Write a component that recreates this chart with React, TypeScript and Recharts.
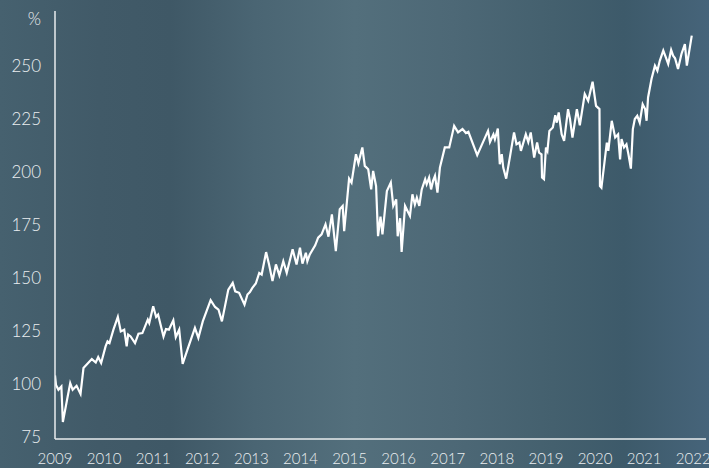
import { LineChart, Line, XAxis, YAxis } from "recharts";

// time in fractional years
const dates = [
  2009.0, 2009.02, 2009.07, 2009.13, 2009.16, 2009.31, 2009.36, 2009.44, 2009.52, 2009.58,
  2009.75, 2009.83, 2009.88, 2009.94, 2010.03, 2010.07, 2010.11, 2010.19, 2010.28, 2010.34,
  2010.41, 2010.46, 2010.49, 2010.54, 2010.63, 2010.7, 2010.78, 2010.89, 2010.92, 2011.0,
  2011.06, 2011.1, 2011.21, 2011.26, 2011.32, 2011.41, 2011.46, 2011.53, 2011.6, 2011.71,
  2011.85, 2011.92, 2012.01, 2012.17, 2012.26, 2012.33, 2012.4, 2012.53, 2012.62, 2012.67,
  2012.75, 2012.86, 2012.92, 2012.97, 2013.02, 2013.09, 2013.16, 2013.21, 2013.3, 2013.36,
  2013.43, 2013.5, 2013.57, 2013.65, 2013.72, 2013.84, 2013.92, 2013.99, 2014.04, 2014.11,
  2014.14, 2014.19, 2014.3, 2014.36, 2014.43, 2014.51, 2014.57, 2014.64, 2014.72, 2014.8,
  2014.86, 2014.89, 2014.99, 2015.04, 2015.13, 2015.18, 2015.26, 2015.31, 2015.38, 2015.44,
  2015.48, 2015.54, 2015.58, 2015.63, 2015.67, 2015.76, 2015.84, 2015.89, 2015.95, 2015.98,
  2016.03, 2016.06, 2016.13, 2016.23, 2016.28, 2016.33, 2016.37, 2016.42, 2016.47, 2016.54,
  2016.57, 2016.62, 2016.66, 2016.7, 2016.74, 2016.79, 2016.84, 2016.94, 2017.03, 2017.13,
  2017.21, 2017.3, 2017.37, 2017.42, 2017.6, 2017.82, 2017.86, 2017.93, 2017.96, 2018.02,
  2018.06, 2018.1, 2018.13, 2018.19, 2018.27, 2018.35, 2018.4, 2018.46, 2018.49, 2018.59,
  2018.64, 2018.69, 2018.76, 2018.82, 2018.86, 2018.91, 2018.92, 2018.96, 2019.0, 2019.03,
  2019.07, 2019.14, 2019.19, 2019.22, 2019.26, 2019.32, 2019.37, 2019.45, 2019.49, 2019.54,
  2019.63, 2019.69, 2019.79, 2019.86, 2019.95, 2020.02, 2020.09, 2020.1, 2020.13, 2020.24,
  2020.27, 2020.34, 2020.41, 2020.47, 2020.51, 2020.54, 2020.59, 2020.64, 2020.68, 2020.73,
  2020.77, 2020.81, 2020.86, 2020.91, 2020.97, 2021.02, 2021.05, 2021.08, 2021.15, 2021.22,
  2021.27, 2021.32, 2021.39, 2021.44, 2021.49, 2021.55, 2021.59, 2021.63, 2021.69, 2021.76,
  2021.83, 2021.87, 2021.97,
];

// index level, %
const values = [
  104, 99.5, 97.2, 98.8, 82, 100.4, 97.2, 99.1, 95.3, 107.5,
  111.7, 110.1, 112.7, 109.9, 117.7, 120.1, 119.3, 125.6, 131.6, 124.8,
  125.6, 117.7, 123.3, 122.4, 119.3, 123.7, 124.0, 130.3, 128.7, 136.6,
  131.6, 132.7, 122.4, 125.9, 125.6, 130.0, 122.1, 125.6, 109.5, 117.0,
  126.4, 121.7, 129.5, 139.5, 136.3, 135.1, 129.5, 144.5, 147.7, 143.7,
  143.0, 137.4, 142.2, 143.3, 145.3, 147.4, 152.4, 151.6, 162.2, 156.4,
  148.5, 156.4, 151.2, 157.9, 152.4, 163.5, 156.4, 164.3, 156.8, 161.9,
  157.9, 161.1, 165.4, 169.0, 170.6, 175.3, 169.5, 180.0, 162.7, 182.4,
  184.0, 172.1, 196.9, 195.0, 208.4, 204.1, 211.6, 202.9, 201.3, 191.8,
  200.5, 193.4, 169.7, 179.0, 170.6, 191.0, 195.0, 184.0, 187.1, 169.7,
  178.2, 162.3, 184.0, 179.3, 189.5, 184.7, 187.9, 184.0, 191.8, 196.6,
  194.2, 197.4, 191.8, 195.8, 198.2, 190.3, 202.1, 211.6, 211.6, 221.8,
  218.7, 220.3, 218.4, 219.0, 208.0, 219.4, 214.2, 217.8, 215.5, 220.5,
  203.7, 208.4, 202.1, 196.9, 207.6, 218.7, 213.1, 213.9, 210.0, 217.8,
  214.2, 218.7, 206.8, 213.9, 209.2, 208.4, 197.4, 196.6, 211.6, 210.0,
  219.4, 221.0, 226.8, 223.3, 228.1, 217.8, 214.7, 229.7, 225.0, 216.3,
  229.7, 222.1, 236.8, 233.6, 242.6, 231.2, 229.7, 193.4, 192.6, 213.9,
  210.0, 224.2, 216.3, 217.8, 206.0, 215.5, 211.6, 213.1, 208.4, 201.6,
  220.3, 225.0, 226.5, 223.3, 232.0, 229.7, 224.2, 235.2, 243.9, 250.2,
  247.8, 252.6, 257.3, 254.2, 251.0, 257.6, 254.9, 253.7, 248.6, 255.7,
  260.4, 250.2, 264.4,
];

const yearTicks = [2009, 2010, 2011, 2012, 2013, 2014, 2015, 2016, 2017, 2018, 2019, 2020, 2021, 2022];
const valueTicks = [75, 100, 125, 150, 175, 200, 225, 250];

const data = dates.map((t, i) => ({ t, v: values[i] }));

const axisColor = "#e8ecee";
const textColor = "#eaeef0";
const font = "Lato, 'Open Sans', sans-serif";

export default function App() {
  return (
    <div
      style={{
        position: "fixed",
        left: 0,
        top: 0,
        width: 709,
        height: 468,
        overflow: "hidden",
        background:
          "linear-gradient(90deg, #46616f 0%, #415a68 14%, #3f5866 24%, #4a6573 36%, #536f7c 50%, #4d6876 64%, #44606e 78%, #3d5a6a 88%, #46647a 100%)",
        fontFamily: font,
      }}
    >
      <div
        style={{
          position: "absolute",
          right: 709 - 41,
          top: 9,
          fontSize: 17,
          fontWeight: 300,
          color: textColor,
          lineHeight: "20px",
        }}
      >
        %
      </div>
      <LineChart
        width={709}
        height={468}
        data={data}
        margin={{ top: 11, right: 3, bottom: 0, left: 0 }}
      >
        <XAxis
          dataKey="t"
          type="number"
          domain={[2009, 2022.26]}
          ticks={yearTicks}
          allowDataOverflow
          height={29}
          tickLine={false}
          tickSize={0}
          tickMargin={14}
          stroke={axisColor}
          strokeWidth={1.5}
          tick={{ fill: textColor, fontSize: 15, fontFamily: font, fontWeight: 300 }}
          interval={0}
        />
        <YAxis
          type="number"
          domain={[74, 276]}
          ticks={valueTicks}
          allowDataOverflow
          width={55}
          tickLine={false}
          tickSize={0}
          tickMargin={14}
          stroke={axisColor}
          strokeWidth={1.5}
          tick={{ fill: textColor, fontSize: 17, fontFamily: font, fontWeight: 300 }}
          interval={0}
        />
        <Line
          type="linear"
          dataKey="v"
          stroke="#ffffff"
          strokeWidth={2.2}
          dot={false}
          isAnimationActive={false}
        />
      </LineChart>
    </div>
  );
}
